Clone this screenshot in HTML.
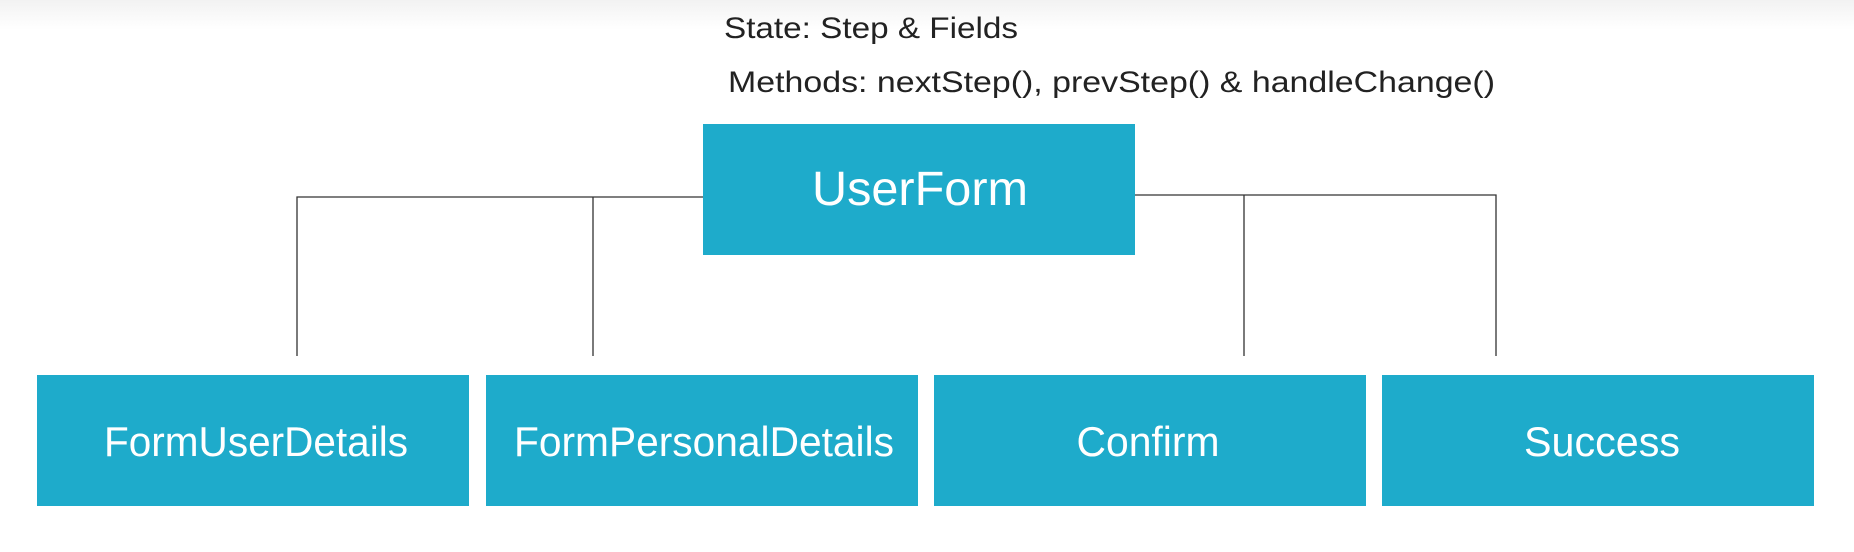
<!DOCTYPE html>
<html><head><style>
html,body{margin:0;padding:0;width:1854px;height:552px;overflow:hidden;background:#fff;}
</style></head><body>
<svg width="1854" height="552" xmlns="http://www.w3.org/2000/svg" font-family="Liberation Sans, sans-serif">
<defs><linearGradient id="g" x1="0" y1="0" x2="0" y2="1"><stop offset="0" stop-color="#f2f2f2"/><stop offset="1" stop-color="#fff"/></linearGradient></defs>
<rect width="1854" height="30" fill="url(#g)"/>
<g stroke="#333" stroke-width="1.3" fill="none">
<path d="M297 356 V197 H703"/>
<path d="M593 197 V356"/>
<path d="M1134 195 H1496 V356"/>
<path d="M1244 195 V356"/>
</g>
<g fill="#1eabcb">
<rect x="703" y="124" width="432" height="131"/>
<rect x="37" y="375" width="432" height="131"/>
<rect x="486" y="375" width="432" height="131"/>
<rect x="934" y="375" width="432" height="131"/>
<rect x="1382" y="375" width="432" height="131"/>
</g>
<g fill="#222" font-size="30">
<text x="724" y="38" textLength="294" lengthAdjust="spacingAndGlyphs">State: Step &amp; Fields</text>
<text x="728" y="92" textLength="767" lengthAdjust="spacingAndGlyphs">Methods: nextStep(), prevStep() &amp; handleChange()</text>
</g>
<g fill="#fff" text-anchor="middle">
<text x="920" y="205" font-size="48" textLength="216" lengthAdjust="spacingAndGlyphs">UserForm</text>
<text x="256" y="456" font-size="42" textLength="304" lengthAdjust="spacingAndGlyphs">FormUserDetails</text>
<text x="704" y="456" font-size="42" textLength="380" lengthAdjust="spacingAndGlyphs">FormPersonalDetails</text>
<text x="1148" y="456" font-size="42" textLength="143" lengthAdjust="spacingAndGlyphs">Confirm</text>
<text x="1602" y="456" font-size="42" textLength="156" lengthAdjust="spacingAndGlyphs">Success</text>
</g>
</svg>
</body></html>
